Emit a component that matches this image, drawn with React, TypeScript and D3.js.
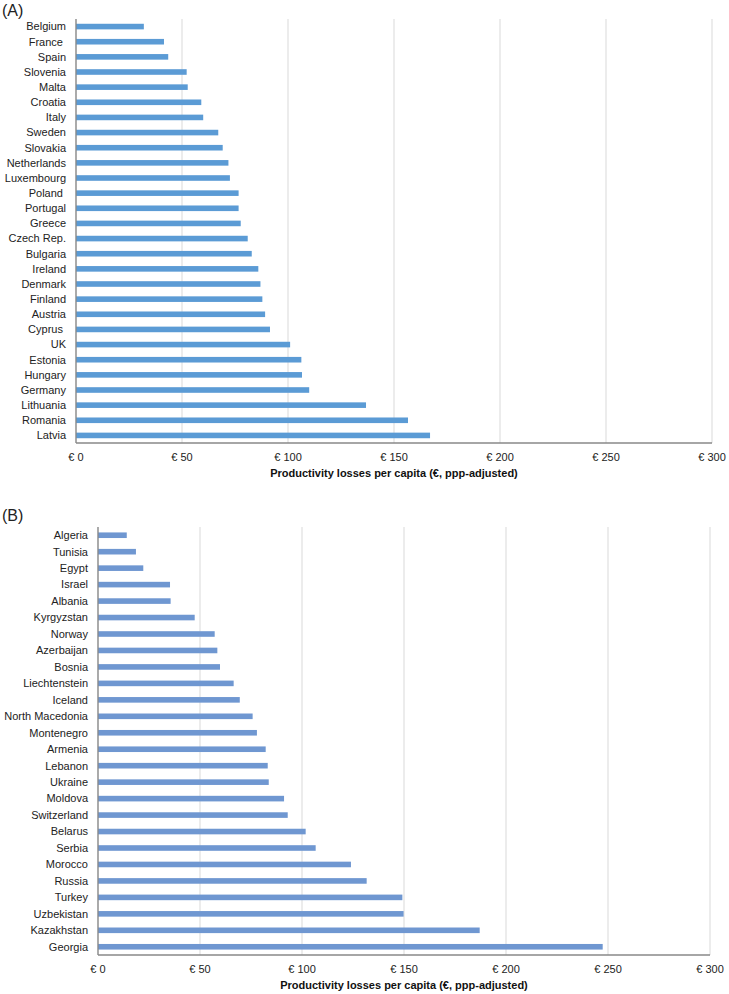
import React from "react";
import * as d3 from "d3";

const euCountries = ["Belgium","France ","Spain","Slovenia","Malta","Croatia","Italy","Sweden","Slovakia","Netherlands","Luxembourg","Poland ","Portugal","Greece","Czech Rep.","Bulgaria","Ireland","Denmark","Finland","Austria","Cyprus ","UK","Estonia","Hungary","Germany","Lithuania","Romania","Latvia"];
const euValues = [32,41.5,43.5,52.2,52.7,59.1,60,67.1,69.2,71.9,72.6,76.7,76.7,77.7,81,82.9,86,87,87.9,89.2,91.5,101,106.3,106.6,110,136.8,156.6,167];

const otherCountries = ["Algeria","Tunisia","Egypt","Israel","Albania","Kyrgyzstan","Norway","Azerbaijan","Bosnia","Liechtenstein","Iceland","North Macedonia","Montenegro","Armenia","Lebanon","Ukraine","Moldova","Switzerland","Belarus","Serbia","Morocco","Russia","Turkey","Uzbekistan","Kazakhstan","Georgia"];
const otherValues = [14.1,18.6,22.2,35.3,35.6,47.4,57.2,58.5,59.8,66.5,69.5,75.8,77.9,82.2,83.2,83.7,91.2,93,101.8,106.7,124,131.7,149.2,149.8,187.1,247.4];

const xTicks = [0,50,100,150,200,250,300];
const axisTitle = "Productivity losses per capita (€, ppp-adjusted)";

type PanelProps = {
  label: string; labelY: number;
  cats: string[]; vals: number[];
  left: number; right: number; top: number; bottom: number;
  color: string;
};

function Panel({label,labelY,cats,vals,left,right,top,bottom,color}: PanelProps) {
  const x = d3.scaleLinear().domain([0,300]).range([left,right]);
  const y = d3.scaleBand<string>().domain(cats).range([top,bottom]).paddingInner(0).paddingOuter(0);
  const bw = y.bandwidth();
  const barH = 5.6;
  const font = "'Liberation Sans', Arial, sans-serif";
  return (
    <g>
      <text x={2} y={labelY} fontSize={16} fontFamily={font} fill="#222">{label}</text>
      {xTicks.map(t => (
        <line key={"g"+t} x1={x(t)} x2={x(t)} y1={top} y2={bottom} stroke="#d9d9d9" strokeWidth={1} />
      ))}
      {cats.map((c,i) => (
        <rect key={c} x={x(0)} y={(y(c) as number) + bw/2 - barH/2} width={x(vals[i]) - x(0)} height={barH} fill={color} />
      ))}
      {cats.map(c => (
        <text key={"l"+c} x={left-10} y={(y(c) as number) + bw/2} dy="0.35em" textAnchor="end" fontSize={11} fontFamily={font} fill="#222" style={{whiteSpace:"pre"}}>{c}</text>
      ))}
      <line x1={left} x2={left} y1={top} y2={bottom} stroke="#888" strokeWidth={1.3} />
      <line x1={left} x2={right} y1={bottom} y2={bottom} stroke="#888" strokeWidth={1.3} />
      {xTicks.map(t => (
        <text key={"t"+t} x={x(t)} y={bottom+18} textAnchor="middle" fontSize={11} fontFamily={font} fill="#222">{"€ " + t}</text>
      ))}
      <text x={(left+right)/2} y={bottom+34} textAnchor="middle" fontSize={11} fontWeight="bold" fontFamily={font} fill="#111">{axisTitle}</text>
    </g>
  );
}

export default function App() {
  return (
    <svg width={729} height={994} style={{position:"absolute",left:0,top:0,background:"#fff"}}>
      <rect width={729} height={994} fill="#fff" />
      <Panel label="(A)" labelY={16} cats={euCountries} vals={euValues} left={76} right={712} top={19} bottom={443} color="#5b9bd5" />
      <Panel label="(B)" labelY={521} cats={otherCountries} vals={otherValues} left={98} right={710} top={527} bottom={955} color="#6f97d1" />
    </svg>
  );
}
